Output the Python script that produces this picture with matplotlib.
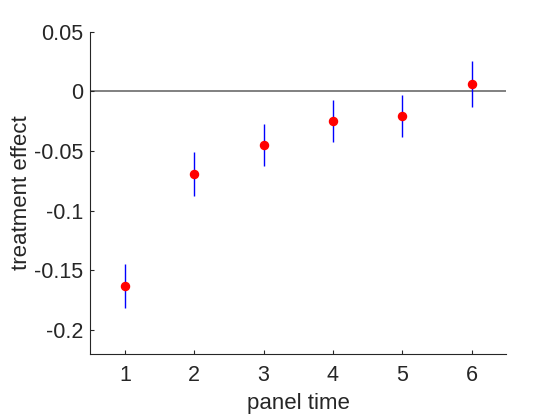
import matplotlib
matplotlib.use('Agg')
import matplotlib.pyplot as plt

# event-study style estimates by panel time
periods = [1, 2, 3, 4, 5, 6]
effect = [-0.163, -0.069, -0.045, -0.025, -0.021, 0.0064]
ci_low = [-0.1814, -0.0876, -0.0622, -0.0428, -0.0386, -0.013]
ci_high = [-0.1444, -0.0512, -0.0278, -0.0075, -0.003, 0.0256]

yticks = [-0.2, -0.15, -0.1, -0.05, 0, 0.05]
ytick_labels = ['-0.2', '-0.15', '-0.1', '-0.05', '0', '0.05']

plt.rcParams['font.family'] = ['Liberation Sans', 'DejaVu Sans']
txt = '#262626'

fig = plt.figure(figsize=(5.6, 4.2), dpi=100)
ax = fig.add_axes([0.161, 0.157, 0.743, 0.768])

ax.axhline(0, color='#808080', linewidth=1.4, zorder=1)
ax.vlines(periods, ci_low, ci_high, colors='blue', linewidth=1, zorder=2)
ax.plot(periods, effect, 'o', color='red', markersize=5.8, zorder=3)

ax.set_xlim(0.5, 6.5)
ax.set_ylim(-0.22, 0.05)
ax.set_xticks(periods)
ax.set_yticks(yticks)
ax.set_yticklabels(ytick_labels)

for s in ['top', 'right']:
    ax.spines[s].set_visible(False)
for s in ['left', 'bottom']:
    ax.spines[s].set_color(txt)
    ax.spines[s].set_linewidth(0.8)
ax.tick_params(direction='in', length=3, width=0.8, colors=txt, labelsize=15.5)
ax.tick_params(axis='y', pad=5)
ax.tick_params(axis='x', pad=8)

ax.set_xlabel('panel time', fontsize=16, color=txt, labelpad=5)
ax.set_ylabel('treatment effect', fontsize=16, color=txt, labelpad=1)

fig.savefig('out.png', dpi=100)
plt.close(fig)
